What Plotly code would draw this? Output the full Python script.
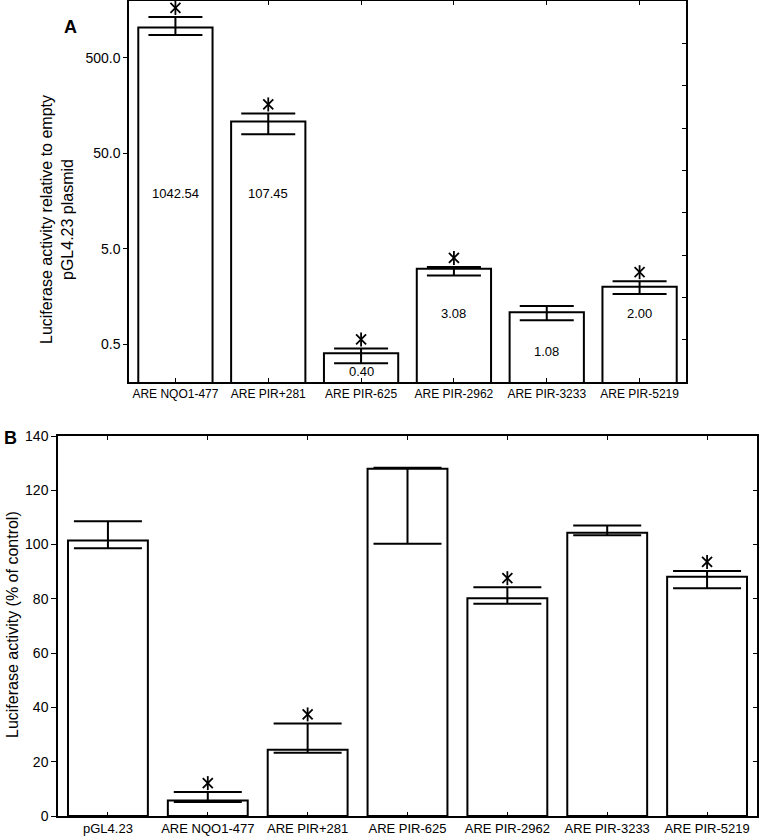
import numpy as np
import plotly.graph_objects as go

# ---------------- data ----------------
cats_A = ["ARE NQO1-477", "ARE PIR+281", "ARE PIR-625", "ARE PIR-2962", "ARE PIR-3233", "ARE PIR-5219"]
vals_A = [1042.54, 107.45, 0.40, 3.08, 1.08, 2.00]
upper_A = [1345, 131, 0.45, 3.22, 1.25, 2.28]
lower_A = [870, 79, 0.314, 2.61, 0.89, 1.67]
sig_A = [True, True, True, True, False, True]
ytick_vals_A = [0.5, 5, 50, 500]
ytick_text_A = ["0.5", "5.0", "50.0", "500.0"]

cats_B = ["pGL4.23", "ARE NQO1-477", "ARE PIR+281", "ARE PIR-625", "ARE PIR-2962", "ARE PIR-3233", "ARE PIR-5219"]
vals_B = [101.5, 5.7, 24.4, 127.9, 80.2, 104.4, 88.1]
upper_B = [108.6, 8.8, 34.1, 128.3, 84.3, 107.0, 90.3]
lower_B = [98.6, 5.2, 23.3, 100.3, 78.2, 103.4, 83.9]
sig_B = [False, True, True, False, True, False, True]

# label positions (log10 units) for the value text inside panel A bars
label_pos_A = [1.28, 1.28, -0.594, 0.024, -0.382, 0.024]

W, H = 761, 840
FONT = "Liberation Sans, Arial, sans-serif"
BLACK = "#000000"

# plot geometry (pixels)
A_TOP, A_BOT = 1, 382
B_TOP, B_BOT = 436, 816
A_RANGE = [np.log10(0.2), 3.296]
B_RANGE = [0, 140]
AST_GAP = 9  # px between upper cap and asterisk centre

fig = go.Figure()

vA = np.array(vals_A)
fig.add_trace(go.Bar(
    x=cats_A, y=vals_A, xaxis="x", yaxis="y", width=0.8,
    marker=dict(color="white", line=dict(color=BLACK, width=2)),
    error_y=dict(type="data", symmetric=False,
                 array=list(np.array(upper_A) - vA),
                 arrayminus=list(vA - np.array(lower_A)),
                 color=BLACK, thickness=2, width=27),
    showlegend=False, hoverinfo="skip"))

vB = np.array(vals_B)
fig.add_trace(go.Bar(
    x=cats_B, y=vals_B, xaxis="x2", yaxis="y2", width=0.8,
    marker=dict(color="white", line=dict(color=BLACK, width=2)),
    error_y=dict(type="data", symmetric=False,
                 array=list(np.array(upper_B) - vB),
                 arrayminus=list(vB - np.array(lower_B)),
                 color=BLACK, thickness=2, width=34),
    showlegend=False, hoverinfo="skip"))

# significance asterisks drawn as markers just above the upper error cap
decades_per_px = (A_RANGE[1] - A_RANGE[0]) / (A_BOT - A_TOP)
units_per_px_B = (B_RANGE[1] - B_RANGE[0]) / (B_BOT - B_TOP)
astA_x = [c for c, s in zip(cats_A, sig_A) if s]
astA_y = [u * 10 ** (AST_GAP * decades_per_px) for u, s in zip(upper_A, sig_A) if s]
astB_x = [c for c, s in zip(cats_B, sig_B) if s]
astB_y = [u + AST_GAP * units_per_px_B for u, s in zip(upper_B, sig_B) if s]
for xs, ys, xa, ya in [(astA_x, astA_y, "x", "y"), (astB_x, astB_y, "x2", "y2")]:
    fig.add_trace(go.Scatter(x=xs, y=ys, xaxis=xa, yaxis=ya, mode="markers",
                             marker=dict(symbol="line-ns-open", size=10, color=BLACK,
                                         line=dict(color=BLACK, width=1.8)),
                             cliponaxis=False, showlegend=False, hoverinfo="skip"))
    fig.add_trace(go.Scatter(x=xs, y=ys, xaxis=xa, yaxis=ya, mode="markers",
                             marker=dict(symbol="x-thin-open", size=10, color=BLACK,
                                         line=dict(color=BLACK, width=1.8)),
                             cliponaxis=False, showlegend=False, hoverinfo="skip"))

# dummy traces so that the right-hand tick axes are drawn
fig.add_trace(go.Scatter(x=[cats_A[0]], y=[None], xaxis="x", yaxis="y3",
                         mode="markers", showlegend=False, hoverinfo="skip"))
fig.add_trace(go.Scatter(x=[cats_B[0]], y=[None], xaxis="x2", yaxis="y4",
                         mode="markers", showlegend=False, hoverinfo="skip"))

axis_common = dict(showline=True, linecolor=BLACK, linewidth=1.5, showgrid=False,
                   zeroline=False, tickcolor=BLACK, tickwidth=1.2, automargin=False)

fig.update_layout(
    template="none",
    width=W, height=H, autosize=False,
    margin=dict(l=0, r=0, t=0, b=0, pad=0),
    paper_bgcolor="white", plot_bgcolor="white",
    font=dict(family=FONT, color=BLACK),
    bargap=0.2,
    xaxis=dict(domain=[129 / W, 686 / W], anchor="y", type="category",
               range=[-0.5, 5.5], mirror="ticks", ticks="inside", ticklen=4,
               tickfont=dict(size=12), **axis_common),
    yaxis=dict(domain=[1 - A_BOT / H, 1 - A_TOP / H], anchor="x", type="log",
               range=A_RANGE, tickvals=ytick_vals_A, ticktext=ytick_text_A,
               ticks="outside", ticklen=4, mirror=True, tickfont=dict(size=14),
               **axis_common),
    yaxis3=dict(overlaying="y", side="right", anchor="x", range=[0, 9],
                tickvals=[1, 2, 3, 4, 5, 6, 7, 8], ticks="inside", ticklen=4,
                showticklabels=False, showline=False, showgrid=False, zeroline=False,
                tickcolor=BLACK, tickwidth=1.2, automargin=False),
    xaxis2=dict(domain=[58 / W, 757 / W], anchor="y2", type="category",
                range=[-0.5, 6.5], mirror="ticks", ticks="inside", ticklen=4,
                tickfont=dict(size=13), **axis_common),
    yaxis2=dict(domain=[1 - B_BOT / H, 1 - B_TOP / H], anchor="x2",
                range=B_RANGE, dtick=20, ticks="outside", ticklen=5, mirror=True,
                tickfont=dict(size=14), **axis_common),
    yaxis4=dict(overlaying="y2", side="right", anchor="x2", range=B_RANGE,
                tickvals=[20, 40, 60, 80, 100, 120], ticks="inside", ticklen=4,
                showticklabels=False, showline=False, showgrid=False, zeroline=False,
                tickcolor=BLACK, tickwidth=1.2, automargin=False),
)

annotations = []
# value labels panel A
for c, v, p in zip(cats_A, vals_A, label_pos_A):
    annotations.append(dict(x=c, y=p, xref="x", yref="y", text=f"{v:.2f}",
                            showarrow=False, yanchor="middle",
                            font=dict(size=13, family=FONT, color=BLACK)))
# axis titles
annotations.append(dict(x=57 / W, y=1 - 220 / H, xref="paper", yref="paper",
                        text="Luciferase activity relative to empty<br>pGL4.23 plasmid",
                        textangle=-90, showarrow=False, xanchor="center", yanchor="middle",
                        font=dict(size=16, family=FONT, color=BLACK)))
annotations.append(dict(x=12 / W, y=1 - 625 / H, xref="paper", yref="paper",
                        text="Luciferase activity (% of control)",
                        textangle=-90, showarrow=False, xanchor="center", yanchor="middle",
                        font=dict(size=16, family=FONT, color=BLACK)))
# panel letters
annotations.append(dict(x=70 / W, y=1 - 27 / H, xref="paper", yref="paper", text="<b>A</b>",
                        showarrow=False, xanchor="center", yanchor="middle",
                        font=dict(size=18, family=FONT, color=BLACK)))
annotations.append(dict(x=10 / W, y=1 - 438 / H, xref="paper", yref="paper", text="<b>B</b>",
                        showarrow=False, xanchor="center", yanchor="middle",
                        font=dict(size=18, family=FONT, color=BLACK)))

fig.update_layout(annotations=annotations)

page_fix = (
    "document.documentElement.style.margin='0';"
    "document.body.style.margin='0';document.body.style.padding='0';"
    "document.body.style.overflow='hidden';"
    "var d=document.getElementById('{plot_id}');"
    "d.style.position='absolute';d.style.top='0px';d.style.left='0px';"
)
fig.write_html("out.html", config={"displayModeBar": False}, post_script=page_fix)
